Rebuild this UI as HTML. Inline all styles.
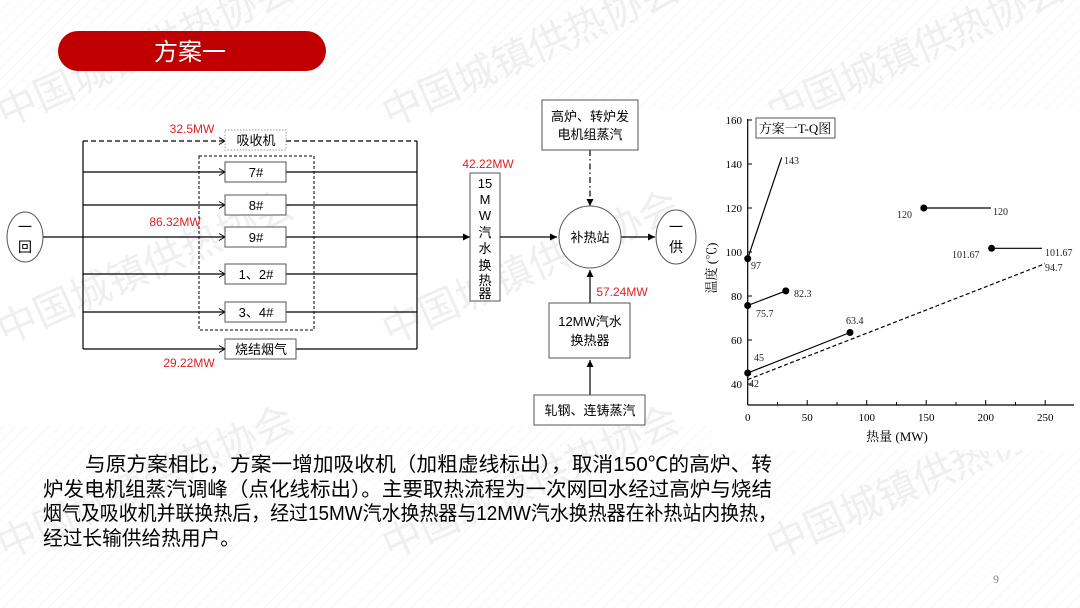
<!DOCTYPE html>
<html><head><meta charset="utf-8"><style>
html,body{margin:0;padding:0;background:#fff}
svg{display:block}
text{font-family:"Liberation Sans","Noto Sans CJK SC",sans-serif}
.s{font-family:"Liberation Serif","Noto Serif CJK SC",serif}
</style></head><body>
<svg width="1080" height="608" viewBox="0 0 1080 608" xmlns="http://www.w3.org/2000/svg">
<defs>
<pattern id="h" width="8" height="8" patternUnits="userSpaceOnUse" patternTransform="rotate(45)">
<line x1="0" y1="0" x2="0" y2="8" stroke="#efefef" stroke-width="1"/>
</pattern>
<marker id="a" markerWidth="8" markerHeight="8" refX="7" refY="4" orient="auto" markerUnits="userSpaceOnUse">
<path d="M0,0.5 L7,4 L0,7.5 Z" fill="#000"/></marker>
<marker id="o" markerWidth="8" markerHeight="8" refX="7" refY="4" orient="auto" markerUnits="userSpaceOnUse">
<path d="M1,0.5 L7,4 L1,7.5" fill="none" stroke="#000" stroke-width="1"/></marker>
</defs>
<rect x="0" y="0" width="1080" height="110" fill="url(#h)"/>
<rect x="0" y="425" width="1080" height="183" fill="url(#h)"/>

<!-- watermarks -->
<g fill="#efefef" font-size="40">
<text transform="translate(5,128) rotate(-24)">中国城镇供热协会</text>
<text transform="translate(390,128) rotate(-24)">中国城镇供热协会</text>
<text transform="translate(775,128) rotate(-24)">中国城镇供热协会</text>
<text transform="translate(5,345) rotate(-24)">中国城镇供热协会</text>
<text transform="translate(390,345) rotate(-24)">中国城镇供热协会</text>
<text transform="translate(775,345) rotate(-24)">中国城镇供热协会</text>
<text transform="translate(5,560) rotate(-24)">中国城镇供热协会</text>
<text transform="translate(390,560) rotate(-24)">中国城镇供热协会</text>
<text transform="translate(775,560) rotate(-24)">中国城镇供热协会</text>
</g>

<!-- title pill -->
<rect x="58" y="31" width="268" height="40" rx="20" fill="#c00000"/>
<text x="190" y="60" font-size="24" fill="#fff" text-anchor="middle">方案一</text>

<!-- left diagram -->
<g stroke="#000" stroke-width="1.2" fill="none">
<line x1="83" y1="141" x2="83" y2="349"/>
<line x1="417" y1="141" x2="417" y2="349"/>
<line x1="83" y1="141" x2="225" y2="141" stroke-dasharray="5,3" marker-end="url(#o)"/>
<line x1="286" y1="141" x2="417" y2="141" stroke-dasharray="5,3"/>
<line x1="83" y1="172" x2="225" y2="172" marker-end="url(#o)"/><line x1="286" y1="172" x2="417" y2="172"/>
<line x1="83" y1="205" x2="225" y2="205" marker-end="url(#o)"/><line x1="286" y1="205" x2="417" y2="205"/>
<line x1="43" y1="237" x2="225" y2="237" marker-end="url(#o)"/><line x1="286" y1="237" x2="470" y2="237" marker-end="url(#a)"/>
<line x1="83" y1="274" x2="225" y2="274" marker-end="url(#o)"/><line x1="286" y1="274" x2="417" y2="274"/>
<line x1="83" y1="312" x2="225" y2="312" marker-end="url(#o)"/><line x1="286" y1="312" x2="417" y2="312"/>
<line x1="83" y1="349" x2="225" y2="349" marker-end="url(#o)"/><line x1="296" y1="349" x2="417" y2="349"/>
<rect x="199" y="156" width="115" height="174" stroke-dasharray="3,2" stroke-width="1"/>
</g>
<ellipse cx="25" cy="237" rx="18" ry="25" fill="#fff" stroke="#555" stroke-width="1"/>
<text x="25" y="232" font-size="14" text-anchor="middle">一</text>
<text x="25" y="252" font-size="14" text-anchor="middle">回</text>
<g fill="#fff" stroke="#555" stroke-width="1">
<rect x="225" y="130" width="61" height="20" stroke="#999" stroke-dasharray="1.5,1.5"/>
<rect x="225" y="162" width="61" height="20"/>
<rect x="225" y="195" width="61" height="20"/>
<rect x="225" y="227" width="61" height="20"/>
<rect x="225" y="264" width="61" height="20"/>
<rect x="225" y="302" width="61" height="20"/>
<rect x="225" y="339" width="71" height="20"/>
</g>
<g font-size="13" text-anchor="middle">
<text x="256" y="145">吸收机</text>
<text x="256" y="177">7#</text>
<text x="256" y="210">8#</text>
<text x="256" y="242">9#</text>
<text x="256" y="279">1、2#</text>
<text x="256" y="317">3、4#</text>
<text x="261" y="354">烧结烟气</text>
</g>
<g font-size="12" fill="#e02020" text-anchor="middle">
<text x="192" y="133">32.5MW</text>
<text x="175" y="226">86.32MW</text>
<text x="189" y="367">29.22MW</text>
<text x="488" y="168">42.22MW</text>
<text x="622" y="296">57.24MW</text>
</g>

<!-- middle -->
<rect x="470" y="173" width="30" height="128" fill="#fff" stroke="#555"/>
<g font-size="13" text-anchor="middle">
<text x="485" y="188">15</text><text x="485" y="204">M</text><text x="485" y="220">W</text>
<text x="485" y="237">汽</text><text x="485" y="253">水</text><text x="485" y="270">换</text>
<text x="485" y="285">热</text><text x="485" y="298">器</text>
</g>
<g stroke="#000" stroke-width="1.2" fill="none">
<line x1="500" y1="237" x2="557" y2="237" marker-end="url(#a)"/>
<line x1="621" y1="237" x2="655" y2="237" marker-end="url(#a)"/>
<line x1="590" y1="150" x2="590" y2="206" stroke-dasharray="6,3,1.5,3" marker-end="url(#a)"/>
<line x1="590" y1="303" x2="590" y2="270" marker-end="url(#a)"/>
<line x1="590" y1="395" x2="590" y2="360" marker-end="url(#a)"/>
</g>
<circle cx="590" cy="237" r="31" fill="#fff" stroke="#555"/>
<text x="590" y="242" font-size="13" text-anchor="middle">补热站</text>
<ellipse cx="676" cy="237" rx="20" ry="27" fill="#fff" stroke="#555"/>
<text x="676" y="232" font-size="14" text-anchor="middle">一</text>
<text x="676" y="252" font-size="14" text-anchor="middle">供</text>
<rect x="542" y="100" width="96" height="50" fill="#fff" stroke="#555"/>
<text x="590" y="121" font-size="13" text-anchor="middle">高炉、转炉发</text>
<text x="590" y="139" font-size="13" text-anchor="middle">电机组蒸汽</text>
<rect x="549" y="303" width="81" height="55" fill="#fff" stroke="#555"/>
<text x="590" y="326" font-size="13" text-anchor="middle">12MW汽水</text>
<text x="590" y="345" font-size="13" text-anchor="middle">换热器</text>
<rect x="534" y="395" width="111" height="30" fill="#fff" stroke="#555"/>
<text x="590" y="415" font-size="13" text-anchor="middle">轧钢、连铸蒸汽</text>

<!-- chart -->
<rect x="712" y="110" width="368" height="340" fill="#fff"/>
<g stroke="#000" stroke-width="1.2" fill="none">
<line x1="747.7" y1="119" x2="747.7" y2="405"/>
<line x1="747.7" y1="405" x2="1074" y2="405"/>
</g>
<g stroke="#000" stroke-width="1">
<line x1="747.7" y1="120" x2="752" y2="120"/><line x1="747.7" y1="164" x2="752" y2="164"/>
<line x1="747.7" y1="208" x2="752" y2="208"/><line x1="747.7" y1="252" x2="752" y2="252"/>
<line x1="747.7" y1="296" x2="752" y2="296"/><line x1="747.7" y1="340" x2="752" y2="340"/>
<line x1="747.7" y1="384" x2="752" y2="384"/>
<line x1="807.2" y1="405" x2="807.2" y2="400"/><line x1="866.7" y1="405" x2="866.7" y2="400"/>
<line x1="926.2" y1="405" x2="926.2" y2="400"/><line x1="985.7" y1="405" x2="985.7" y2="400"/>
<line x1="1045.2" y1="405" x2="1045.2" y2="400"/>
<line x1="777.5" y1="405" x2="777.5" y2="402"/><line x1="837" y1="405" x2="837" y2="402"/>
<line x1="896.5" y1="405" x2="896.5" y2="402"/><line x1="956" y1="405" x2="956" y2="402"/>
<line x1="1015.5" y1="405" x2="1015.5" y2="402"/>
</g>
<g font-size="11" text-anchor="end">
<text x="742" y="124" class="s">160</text><text x="742" y="168" class="s">140</text>
<text x="742" y="212" class="s">120</text><text x="742" y="256" class="s">100</text>
<text x="742" y="300" class="s">80</text><text x="742" y="344" class="s">60</text>
<text x="742" y="388" class="s">40</text>
</g>
<g font-size="11" text-anchor="middle">
<text x="747.7" y="421" class="s">0</text><text x="807.2" y="421" class="s">50</text>
<text x="866.7" y="421" class="s">100</text><text x="926.2" y="421" class="s">150</text>
<text x="985.7" y="421" class="s">200</text><text x="1045.2" y="421" class="s">250</text>
</g>
<text x="897" y="441" font-size="13" text-anchor="middle" class="s">热量 (MW)</text>
<text transform="translate(716,268) rotate(-90)" font-size="13" text-anchor="middle" class="s">温度 (℃)</text>
<rect x="756" y="118" width="79" height="20" fill="#fff" stroke="#555"/>
<text x="795" y="133" font-size="13" text-anchor="middle" class="s">方案一T-Q图</text>
<g stroke="#000" stroke-width="1.2" fill="none">
<line x1="747.7" y1="258.6" x2="781.7" y2="157.4"/>
<line x1="747.7" y1="305.5" x2="785.8" y2="290.9"/>
<line x1="747.7" y1="373" x2="850" y2="332.5"/>
<line x1="747.7" y1="379.6" x2="1045" y2="263.7" stroke-dasharray="4,2.5"/>
<line x1="923.8" y1="208" x2="991" y2="208"/>
<line x1="991.6" y1="248.3" x2="1042" y2="248.3"/>
</g>
<g fill="#000">
<circle cx="747.7" cy="258.6" r="3.5"/><circle cx="747.7" cy="305.5" r="3.5"/>
<circle cx="785.8" cy="290.9" r="3.5"/><circle cx="747.7" cy="373" r="3.5"/>
<circle cx="850" cy="332.5" r="3.5"/><circle cx="923.8" cy="208" r="3.5"/>
<circle cx="991.6" cy="248.3" r="3.5"/>
</g>
<g font-size="10" fill="#222">
<text x="784" y="164" class="s">143</text><text x="751" y="269" class="s">97</text>
<text x="794" y="297" class="s">82.3</text><text x="756" y="317" class="s">75.7</text>
<text x="846" y="324" class="s">63.4</text><text x="754" y="361" class="s">45</text>
<text x="749" y="387" class="s">42</text>
<text x="897" y="218" class="s">120</text><text x="993" y="215" class="s">120</text>
<text x="952" y="258" class="s">101.67</text><text x="1045" y="256" class="s">101.67</text>
<text x="1045" y="271" class="s">94.7</text>
</g>

<!-- paragraph -->
<g font-size="20" fill="#000">
<text x="85" y="471" textLength="687" lengthAdjust="spacingAndGlyphs">与原方案相比，方案一增加吸收机（加粗虚线标出），取消150℃的高炉、转</text>
<text x="43" y="496" textLength="729" lengthAdjust="spacingAndGlyphs">炉发电机组蒸汽调峰（点化线标出）。主要取热流程为一次网回水经过高炉与烧结</text>
<text x="43" y="520" textLength="734" lengthAdjust="spacingAndGlyphs">烟气及吸收机并联换热后，经过15MW汽水换热器与12MW汽水换热器在补热站内换热，</text>
<text x="43" y="545" textLength="197" lengthAdjust="spacingAndGlyphs">经过长输供给热用户。</text>
</g>
<text x="993" y="583" font-size="12" fill="#888" class="s">9</text>
</svg>
</body></html>
